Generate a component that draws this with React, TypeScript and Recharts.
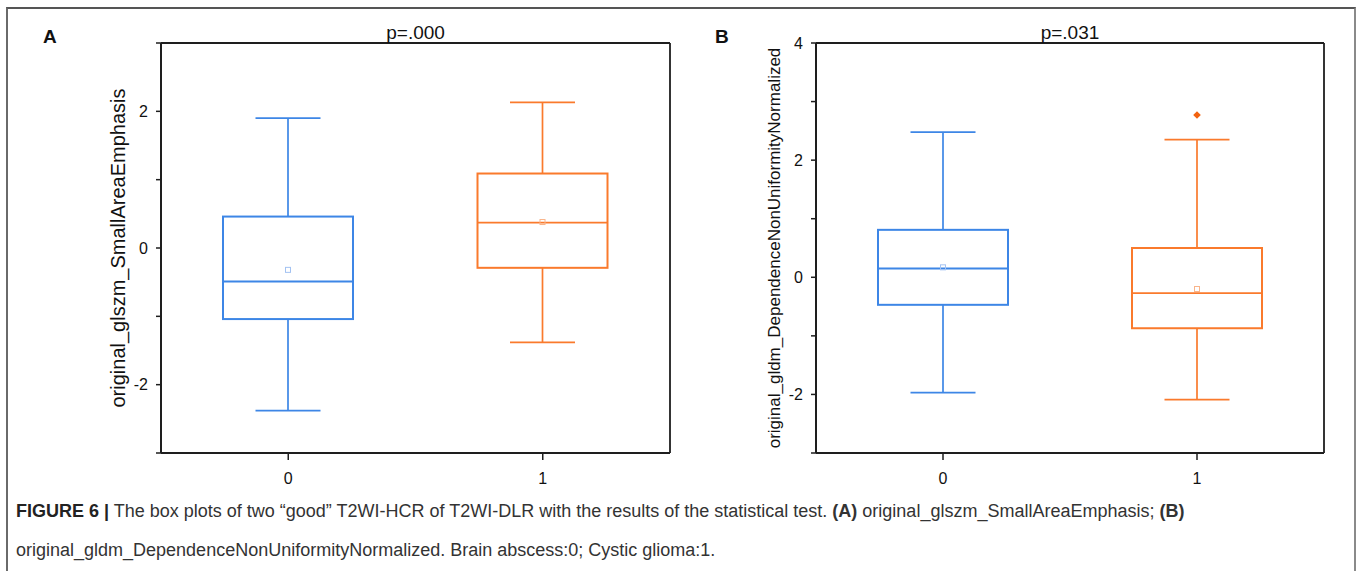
import { Bar, ComposedChart, Label, XAxis, YAxis } from "recharts";

const categories = ["0", "1"];

// panel A: original_glszm_SmallAreaEmphasis
const aLow = [-2.38, -1.38];
const aQ1 = [-1.04, -0.29];
const aMedian = [-0.49, 0.37];
const aQ3 = [0.46, 1.09];
const aHigh = [1.9, 2.13];
const aMean = [-0.32, 0.38];
const aOutliers: number[][] = [[], []];
const aTicks = [-3, -2, -1, 0, 1, 2, 3];

// panel B: original_gldm_DependenceNonUniformityNormalized
const bLow = [-1.97, -2.09];
const bQ1 = [-0.47, -0.87];
const bMedian = [0.15, -0.27];
const bQ3 = [0.81, 0.5];
const bHigh = [2.48, 2.35];
const bMean = [0.17, -0.2];
const bOutliers: number[][] = [[], [2.77]];
const bTicks = [-3, -2, -1, 0, 1, 2, 3, 4];

const COLORS = ["#3d86e6", "#fa7a2c"];
const MEAN_COLORS = ["#a3c2f2", "#f9b48a"];
const OUTLIER_COLORS = ["#3d86e6", "#f2620f"];
const FONT = "'Liberation Sans', Arial, sans-serif";
const AXIS = "#1e1e1e";

const buildRows = (
  low: number[],
  q1: number[],
  med: number[],
  q3: number[],
  high: number[],
  mean: number[],
  outliers: number[][]
) =>
  categories.map((cat, i) => ({
    cat,
    idx: i,
    range: [low[i], high[i]],
    low: low[i],
    q1: q1[i],
    med: med[i],
    q3: q3[i],
    high: high[i],
    mean: mean[i],
    outliers: outliers[i],
  }));

const rowsA = buildRows(aLow, aQ1, aMedian, aQ3, aHigh, aMean, aOutliers);
const rowsB = buildRows(bLow, bQ1, bMedian, bQ3, bHigh, bMean, bOutliers);

const BoxShape = (props: any) => {
  const { x, y, width, height, payload } = props;
  const p = payload;
  const span = p.high - p.low;
  const py = (v: number) => y + ((p.high - v) / span) * height;
  const cx = x + width / 2;
  const cap = width / 4;
  const c = COLORS[p.idx];
  return (
    <g>
      <line x1={cx} x2={cx} y1={py(p.high)} y2={py(p.q3)} stroke={c} strokeWidth={1.7} />
      <line x1={cx} x2={cx} y1={py(p.q1)} y2={py(p.low)} stroke={c} strokeWidth={1.7} />
      <line x1={cx - cap} x2={cx + cap} y1={py(p.high)} y2={py(p.high)} stroke={c} strokeWidth={1.8} />
      <line x1={cx - cap} x2={cx + cap} y1={py(p.low)} y2={py(p.low)} stroke={c} strokeWidth={1.8} />
      <rect
        x={x}
        y={py(p.q3)}
        width={width}
        height={py(p.q1) - py(p.q3)}
        fill="none"
        stroke={c}
        strokeWidth={2}
      />
      <line x1={x} x2={x + width} y1={py(p.med)} y2={py(p.med)} stroke={c} strokeWidth={1.8} />
      <rect
        x={cx - 2.5}
        y={py(p.mean) - 2.5}
        width={5}
        height={5}
        fill="none"
        stroke={MEAN_COLORS[p.idx]}
        strokeWidth={1}
      />
      {p.outliers.map((o: number, k: number) => (
        <path
          key={k}
          d={`M${cx},${py(o) - 3.8} L${cx + 3.8},${py(o)} L${cx},${py(o) + 3.8} L${cx - 3.8},${py(o)} Z`}
          fill={OUTLIER_COLORS[p.idx]}
        />
      ))}
    </g>
  );
};

const YTitle = ({ text, size, offset }: { text: string; size: number; offset: number }) => (
  <Label
    content={(props: any) => {
      const vb = props.viewBox;
      const lx = vb.x + offset;
      const ly = vb.y + vb.height / 2;
      return (
        <text
          x={lx}
          y={ly}
          transform={`rotate(-90 ${lx} ${ly})`}
          textAnchor="middle"
          dominantBaseline="central"
          fontSize={size}
          fontFamily={FONT}
          fill="#111"
        >
          {text}
        </text>
      );
    }}
  />
);

const BoxPanel = ({
  rows,
  domain,
  ticks,
  yTitle,
  titleSize,
  titleOffset,
  width,
  marginLeft,
  marginRight,
}: any) => (
  <ComposedChart
    width={width}
    height={500}
    data={rows}
    margin={{ top: 42, right: marginRight - 1, left: marginLeft, bottom: 10 }}
  >
    <XAxis
      dataKey="cat"
      height={37}
      axisLine={{ stroke: AXIS, strokeWidth: 2 }}
      tickLine={{ stroke: AXIS, strokeWidth: 1.5 }}
      tickSize={7}
      tickMargin={13}
      tick={{ fontSize: 16, fontFamily: FONT, fill: "#111" }}
    />
    <XAxis
      xAxisId="top"
      dataKey="cat"
      orientation="top"
      height={1}
      tick={false}
      tickLine={false}
      axisLine={{ stroke: AXIS, strokeWidth: 1.8 }}
    />
    <YAxis
      type="number"
      domain={domain}
      ticks={ticks}
      width={61}
      interval={0}
      allowDataOverflow
      axisLine={{ stroke: AXIS, strokeWidth: 2 }}
      tickLine={{ stroke: AXIS, strokeWidth: 1.5 }}
      tickSize={5}
      tickMargin={8}
      tickFormatter={(v: number) => (v % 2 === 0 ? String(v) : "")}
      tick={{ fontSize: 16, fontFamily: FONT, fill: "#111" }}
    >
      <YTitle text={yTitle} size={titleSize} offset={titleOffset} />
    </YAxis>
    <YAxis
      yAxisId="right"
      orientation="right"
      type="number"
      domain={domain}
      width={1}
      tick={false}
      tickLine={false}
      axisLine={{ stroke: AXIS, strokeWidth: 1.8 }}
    />
    <Bar dataKey="range" barSize={130} shape={<BoxShape />} isAnimationActive={false} />
  </ComposedChart>
);

export default function App() {
  return (
    <div
      style={{
        position: "absolute",
        left: 0,
        top: 0,
        width: 1358,
        height: 571,
        background: "#fff",
        overflow: "hidden",
        fontFamily: FONT,
      }}
    >
      <div
        style={{
          position: "absolute",
          left: 6,
          top: 7,
          width: 1346,
          height: 580,
          borderLeft: "2px solid #6a6a6a",
          borderTop: "2px solid #555",
          borderRight: "2px solid #8a8a8a",
        }}
      />
      <div style={{ position: "absolute", left: 0, top: 0 }}>
        <BoxPanel
          rows={rowsA}
          domain={[-3, 3]}
          ticks={aTicks}
          yTitle="original_glszm_SmallAreaEmphasis"
          titleSize={20}
          titleOffset={18}
          width={680}
          marginLeft={100}
          marginRight={10}
        />
      </div>
      <div style={{ position: "absolute", left: 680, top: 0 }}>
        <BoxPanel
          rows={rowsB}
          domain={[-3, 4]}
          ticks={bTicks}
          yTitle="original_gldm_DependenceNonUniformityNormalized"
          titleSize={17}
          titleOffset={19}
          width={678}
          marginLeft={75}
          marginRight={34}
        />
      </div>
      <svg
        width={1358}
        height={60}
        style={{ position: "absolute", left: 0, top: 0, pointerEvents: "none" }}
      >
        <text x={43} y={43} fontSize={19} fontWeight="bold" fontFamily={FONT} fill="#111">
          A
        </text>
        <text x={415.6} y={39} fontSize={19} textAnchor="middle" fontFamily={FONT} fill="#111">
          p=.000
        </text>
        <text x={715} y={43} fontSize={19} fontWeight="bold" fontFamily={FONT} fill="#111">
          B
        </text>
        <text x={1070} y={39} fontSize={19} textAnchor="middle" fontFamily={FONT} fill="#111">
          p=.031
        </text>
      </svg>
      <div
        style={{
          position: "absolute",
          left: 16,
          top: 492,
          fontSize: 18,
          lineHeight: "39px",
          color: "#333",
          whiteSpace: "nowrap",
        }}
      >
        <b style={{ color: "#222" }}>FIGURE 6 |</b> The box plots of two “good” T2WI-HCR of T2WI-DLR with
        the results of the statistical test. <b>(A)</b> original_glszm_SmallAreaEmphasis; <b>(B)</b>
        <br />
        original_gldm_DependenceNonUniformityNormalized. Brain abscess:0; Cystic glioma:1.
      </div>
    </div>
  );
}
